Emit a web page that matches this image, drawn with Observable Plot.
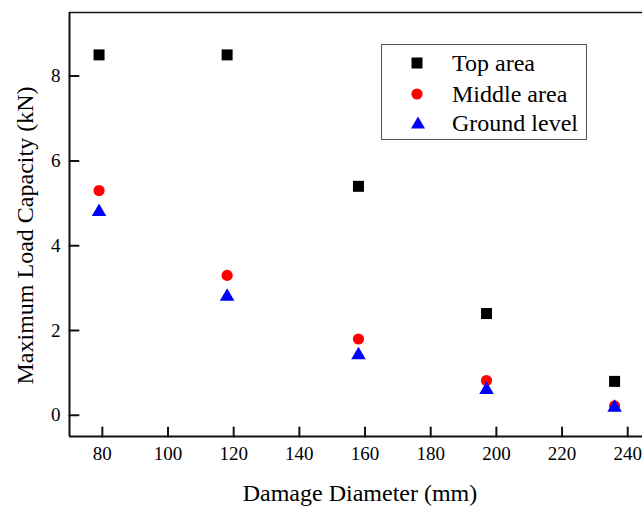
<!DOCTYPE html>
<html>
<head>
<meta charset="utf-8">
<script src="https://cdn.jsdelivr.net/npm/d3@7"></script>
<script src="https://cdn.jsdelivr.net/npm/@observablehq/plot@0.6"></script>
<style>
  html, body { margin: 0; padding: 0; background: #fff; }
  #wrap { position: relative; width: 642px; height: 506px; font-family: "Liberation Serif", "Times New Roman", serif; }
  #legend { position: absolute; left: 381px; top: 44px; width: 206px; height: 96px; border: 1px solid #555; box-sizing: border-box; background: #fff; }
  .row { position: absolute; left: 0; height: 30px; display: flex; align-items: center; font-size: 24px; color: #000; }
  .row svg { position: absolute; left: 28px; }
  .row span { position: absolute; left: 70px; white-space: nowrap; }
</style>
</head>
<body>
<div id="wrap"></div>
<script>
const diameters = [79, 118, 158, 197, 236];
const topArea = [8.5, 8.5, 5.4, 2.4, 0.8];
const middleArea = [5.3, 3.3, 1.8, 0.82, 0.22];
const groundLevel = [4.8, 2.8, 1.42, 0.6, 0.18];
const seriesNames = ["Top area", "Middle area", "Ground level"];
const xTicks = [80, 100, 120, 140, 160, 180, 200, 220, 240];
const yTicks = [0, 2, 4, 6, 8];
const xLabel = "Damage Diameter (mm)";
const yLabel = "Maximum Load Capacity (kN)";

const toRows = (vals) => diameters.map((d, i) => ({x: d, y: vals[i]}));
const tickShape = {draw(c, l) { c.moveTo(0, 0); c.lineTo(0, -l); }};

const chart = Plot.plot({
  width: 642,
  height: 506,
  marginLeft: 69,
  marginTop: 12,
  marginBottom: 70,
  marginRight: 0,
  style: {fontFamily: "Liberation Serif, Times New Roman, serif", background: "#fff", overflow: "visible"},
  x: {domain: [70, 244.5]},
  y: {domain: [-0.5, 9.5]},
  marks: [
    Plot.axisX({ticks: xTicks, tickSize: 0, tickPadding: 10, fontSize: 19, label: null, tickFormat: d => String(d)}),
    Plot.axisY({ticks: yTicks, tickSize: 0, tickPadding: 9, fontSize: 19, label: null, tickFormat: d => String(d)}),
    Plot.vector(xTicks, {x: d => d, y: -0.5, length: 9, rotate: 0, anchor: "start", shape: tickShape, stroke: "#111", strokeWidth: 2}),
    Plot.vector(yTicks, {x: 70, y: d => d, length: 9, rotate: 90, anchor: "start", shape: tickShape, stroke: "#111", strokeWidth: 2}),
    Plot.ruleY([-0.5], {stroke: "#111", strokeWidth: 2}),
    Plot.ruleY([9.5], {stroke: "#111", strokeWidth: 1.6}),
    Plot.ruleX([70], {stroke: "#111", strokeWidth: 2}),
    Plot.dot(toRows(topArea), {x: "x", y: "y", symbol: "square", r: 6.2, fill: "#000"}),
    Plot.dot(toRows(middleArea), {x: "x", y: "y", symbol: "circle", r: 5.6, fill: "#ff0000"}),
    Plot.dot(toRows(groundLevel), {x: "x", y: "y", symbol: "triangle", r: 5.4, fill: "#0000ff"}),
    Plot.text([xLabel], {frameAnchor: "bottom", dy: 57, dx: 4, fontSize: 24, fill: "#000", textAnchor: "middle", lineAnchor: "middle"}),
    Plot.text([yLabel], {frameAnchor: "left", dx: -44, dy: 11, rotate: -90, fontSize: 24, fill: "#000", textAnchor: "middle", lineAnchor: "middle"})
  ]
});

const wrap = document.getElementById("wrap");
wrap.appendChild(chart);

const legend = document.createElement("div");
legend.id = "legend";
const symbolSvgs = [
  '<svg width="14" height="14" viewBox="-7 -7 14 14"><rect x="-5.5" y="-5.5" width="11" height="11" fill="#000"/></svg>',
  '<svg width="14" height="14" viewBox="-7 -7 14 14"><circle r="5.6" fill="#ff0000"/></svg>',
  '<svg width="16" height="16" viewBox="-8 -8 16 16"><path d="M0,-6.5L7,5.5L-7,5.5Z" fill="#0000ff"/></svg>'
];
const rowTops = [3, 34, 63];
seriesNames.forEach((name, i) => {
  const row = document.createElement("div");
  row.className = "row";
  row.style.top = rowTops[i] + "px";
  row.innerHTML = symbolSvgs[i] + '<span>' + name + '</span>';
  legend.appendChild(row);
});
wrap.appendChild(legend);
</script>
</body>
</html>
